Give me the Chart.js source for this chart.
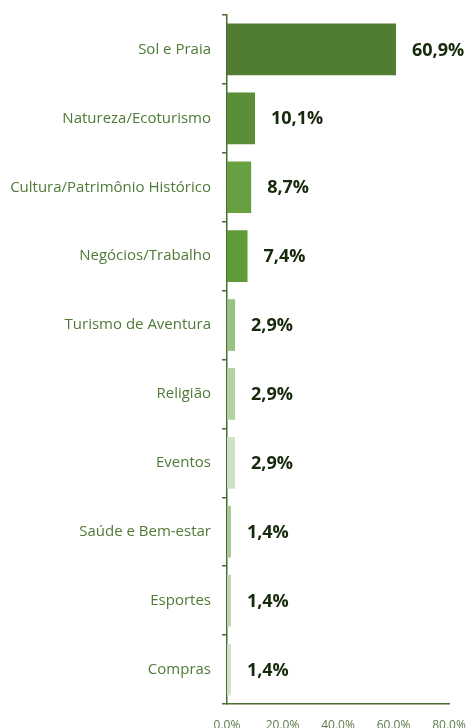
<!DOCTYPE html>
<html>
<head>
<meta charset="utf-8">
<script src="https://cdn.jsdelivr.net/npm/chart.js@4/dist/chart.umd.min.js"></script>
<style>
  html, body { margin: 0; padding: 0; background: #fff; overflow: hidden; }
  #wrap { width: 468px; height: 742px; position: relative; }
</style>
</head>
<body>
<div id="wrap"><canvas id="chart"></canvas></div>
<script>
// --- Data ---
const categories = [
  "Sol e Praia",
  "Natureza/Ecoturismo",
  "Cultura/Patrimônio Histórico",
  "Negócios/Trabalho",
  "Turismo de Aventura",
  "Religião",
  "Eventos",
  "Saúde e Bem-estar",
  "Esportes",
  "Compras"
];
const shares = [60.9, 10.1, 8.7, 7.4, 2.9, 2.9, 2.9, 1.4, 1.4, 1.4];
const xTicks = [0, 20, 40, 60, 80];

// --- Styles ---
const barColors = [
  "#507d31", "#5b8e38", "#66a040", "#5f9b39", "#98c183",
  "#b4d1a6", "#cfe1c7", "#a6c995", "#bcd6b0", "#d0e2c8"
];
const axisColor  = "#4a6c2e";
const labelColor = "#4f7a36";
const valueColor = "#17290c";

// --- Plugin: value labels after bars ---
const valueLabels = {
  id: "valueLabels",
  afterDatasetsDraw(chart) {
    const ctx  = chart.ctx;
    const meta = chart.getDatasetMeta(0);
    ctx.save();
    ctx.font = "bold 18px 'Open Sans'";
    ctx.fillStyle = valueColor;
    ctx.textAlign = "left";
    ctx.textBaseline = "middle";
    meta.data.forEach((bar, i) => {
      const txt = shares[i].toFixed(1).replace(".", ",") + "%";
      ctx.fillText(txt, bar.x + 16, bar.y + 1);
    });
    ctx.restore();
  }
};

new Chart(document.getElementById("chart"), {
  type: "bar",
  data: {
    labels: categories,
    datasets: [{
      data: shares,
      backgroundColor: barColors,
      borderWidth: 0,
      barPercentage: 0.75,
      categoryPercentage: 1
    }]
  },
  options: {
    indexAxis: "y",
    responsive: true,
    maintainAspectRatio: false,
    animation: false,
    layout: { padding: { top: 15, right: 19, left: 0, bottom: 0 } },
    plugins: {
      legend: { display: false },
      tooltip: { enabled: false }
    },
    scales: {
      x: {
        min: xTicks[0],
        max: xTicks[xTicks.length - 1],
        afterFit(scale) {
          scale.height = 38;
          scale.paddingLeft = 0;
          scale.paddingRight = 0;
        },
        grid: { display: false, drawTicks: false },
        border: { display: true, color: axisColor, width: 1.5 },
        ticks: {
          stepSize: xTicks[1] - xTicks[0],
          padding: 14,
          color: "#5d7a4c",
          font: { family: "'Open Sans'", size: 12 },
          maxRotation: 0,
          autoSkip: false,
          callback: v => Number(v).toFixed(1) + "%"
        }
      },
      y: {
        afterFit(scale) {
          scale.width = 227;
          scale.paddingTop = 0;
          scale.paddingBottom = 0;
        },
        grid: { drawOnChartArea: false, offset: true, tickLength: 5, color: axisColor, lineWidth: 1.5 },
        border: { display: true, color: axisColor, width: 1.5 },
        ticks: {
          padding: 11,
          color: labelColor,
          font: { family: "'Open Sans'", size: 15 }
        }
      }
    }
  },
  plugins: [valueLabels]
});
</script>
</body>
</html>
